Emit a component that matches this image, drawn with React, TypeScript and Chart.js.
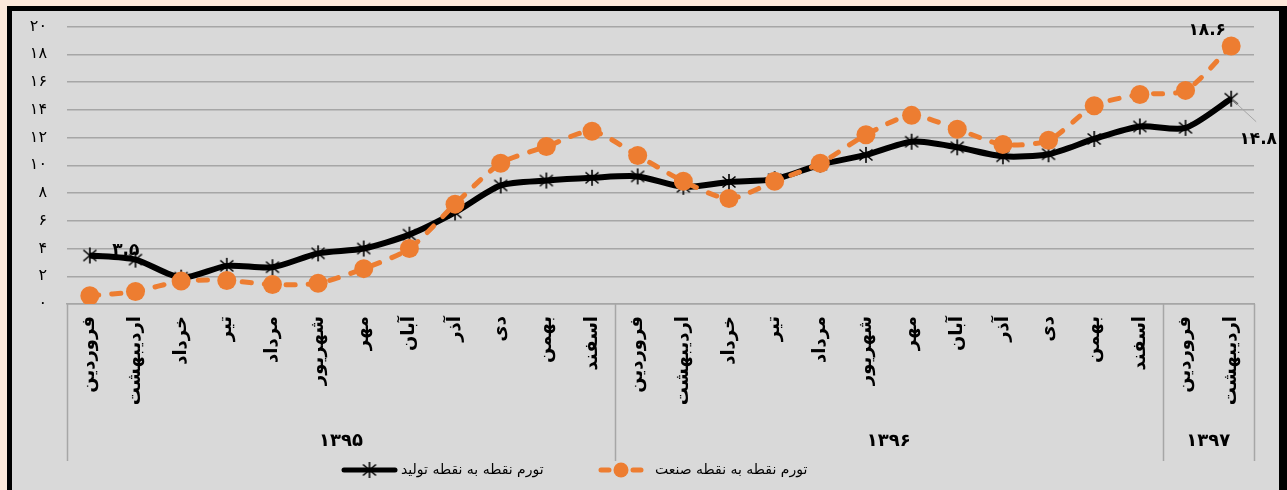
import React, { useEffect, useRef } from 'react';
import { Chart, registerables } from 'chart.js';

Chart.register(...registerables);

const months = ['فروردین', 'اردیبهشت', 'خرداد', 'تیر', 'مرداد', 'شهریور', 'مهر', 'آبان', 'آذر', 'دی', 'بهمن', 'اسفند'];
const categories = [...months, ...months, 'فروردین', 'اردیبهشت'];
const years = ['۱۳۹۵', '۱۳۹۶', '۱۳۹۷'];
const yearCounts = [12, 12, 2];

const productionInflation = [3.5, 3.2, 1.9, 2.75, 2.65, 3.65, 4.0, 5.0, 6.6, 8.55, 8.9, 9.1, 9.2, 8.45, 8.8, 9.0, 10.05, 10.75, 11.7, 11.3, 10.65, 10.8, 11.9, 12.8, 12.7, 14.8];
const industryInflation = [0.6, 0.9, 1.65, 1.7, 1.4, 1.5, 2.55, 4.0, 7.2, 10.15, 11.35, 12.45, 10.7, 8.85, 7.6, 8.85, 10.15, 12.2, 13.6, 12.6, 11.5, 11.8, 14.3, 15.1, 15.4, 18.6];
const seriesNames = ['تورم نقطه به نقطه تولید', 'تورم نقطه به نقطه صنعت'];

const yMin = 0;
const yMax = 20;
const yStep = 2;

// data labels: [dataset index, point index]
const labeledPoints: [number, number][] = [[0, 0], [1, 25], [0, 25]];

const FA_DIGITS = '۰۱۲۳۴۵۶۷۸۹';
const toFa = (v: number | string) => String(v).replace(/[0-9]/g, (d) => FA_DIGITS[Number(d)]);

const BLACK = '#000000';
const ORANGE = '#ed7d31';
const GRID = '#a6a6a6';
const FONT = '"DejaVu Sans", sans-serif';

function makeStar(): HTMLCanvasElement {
  const c = document.createElement('canvas');
  c.width = 18;
  c.height = 18;
  const g = c.getContext('2d')!;
  g.strokeStyle = '#000';
  g.lineWidth = 1.6;
  g.lineCap = 'butt';
  g.beginPath();
  g.moveTo(9, 1);
  g.lineTo(9, 17);
  g.moveTo(2.5, 3.5);
  g.lineTo(15.5, 14.5);
  g.moveTo(2.5, 14.5);
  g.lineTo(15.5, 3.5);
  g.stroke();
  return c;
}

export default function App() {
  const ref = useRef<HTMLCanvasElement | null>(null);

  useEffect(() => {
    document.body.style.margin = '0';
    document.body.style.background = '#fce8da';
    document.documentElement.style.overflow = 'hidden';
    const canvas = ref.current;
    if (!canvas) return;
    const star = makeStar();

    const overlay = {
      id: 'overlay',
      afterDraw(chart: any) {
        const ctx = chart.ctx as CanvasRenderingContext2D;
        const area = chart.chartArea;
        const total = categories.length;
        const w = (area.right - area.left) / total;
        const bottom = area.bottom;
        // group separators
        ctx.save();
        ctx.strokeStyle = GRID;
        ctx.lineWidth = 1.5;
        let k = 0;
        const bounds = [0];
        yearCounts.forEach((c) => { k += c; bounds.push(k); });
        bounds.forEach((b) => {
          const x = Math.round(area.left + b * w) + 0.5;
          ctx.beginPath();
          ctx.moveTo(x, bottom);
          ctx.lineTo(x, bottom + 157);
          ctx.stroke();
        });
        // year labels
        ctx.fillStyle = '#000';
        ctx.font = `bold 18px ${FONT}`;
        ctx.textAlign = 'center';
        ctx.textBaseline = 'middle';
        years.forEach((y, i) => {
          const cx = area.left + ((bounds[i] + bounds[i + 1]) / 2) * w;
          ctx.fillText(y, cx, bottom + 137);
        });
        // data labels
        ctx.font = `bold 17px ${FONT}`;
        labeledPoints.forEach(([ds, idx]) => {
          const pt = chart.getDatasetMeta(ds).data[idx];
          const val = chart.data.datasets[ds].data[idx] as number;
          const txt = toFa(val.toFixed(1));
          if (ds === 0 && idx === 0) {
            ctx.fillText(txt, pt.x + 36, pt.y - 5);
          } else if (ds === 1) {
            ctx.fillText(txt, pt.x - 24, pt.y - 15);
          } else {
            ctx.strokeStyle = GRID;
            ctx.lineWidth = 1;
            ctx.beginPath();
            ctx.moveTo(pt.x + 1, pt.y + 1);
            ctx.lineTo(pt.x + 25, pt.y + 23);
            ctx.stroke();
            ctx.fillText(txt, pt.x + 27, pt.y + 41);
          }
        });
        // legend
        const ly = bottom + 166;
        ctx.font = `14px ${FONT}`;
        ctx.textAlign = 'left';
        // item 1: black line + star
        ctx.strokeStyle = BLACK;
        ctx.lineWidth = 5;
        ctx.lineCap = 'round';
        ctx.beginPath();
        ctx.moveTo(332, ly);
        ctx.lineTo(383, ly);
        ctx.stroke();
        ctx.drawImage(star, 357.5 - 9, ly - 9);
        ctx.fillText(seriesNames[0], 389, ly);
        // item 2: orange dash + circle
        ctx.strokeStyle = ORANGE;
        ctx.fillStyle = ORANGE;
        ctx.lineWidth = 5;
        ctx.beginPath();
        ctx.moveTo(589, ly);
        ctx.lineTo(597, ly);
        ctx.moveTo(621, ly);
        ctx.lineTo(629, ly);
        ctx.stroke();
        ctx.beginPath();
        ctx.arc(609, ly, 7.5, 0, Math.PI * 2);
        ctx.fill();
        ctx.fillStyle = '#000';
        ctx.fillText(seriesNames[1], 643, ly);
        ctx.restore();
      },
    };

    const chart = new Chart(canvas, {
      type: 'line',
      data: {
        labels: categories,
        datasets: [
          {
            label: seriesNames[0],
            data: productionInflation,
            borderColor: BLACK,
            backgroundColor: BLACK,
            borderWidth: 6,
            tension: 0.25,
            pointStyle: star as any,
            pointRadius: 9,
            order: 1,
          },
          {
            label: seriesNames[1],
            data: industryInflation,
            borderColor: ORANGE,
            backgroundColor: ORANGE,
            borderWidth: 5,
            borderDash: [9, 13],
            borderCapStyle: 'round',
            tension: 0.25,
            pointStyle: 'circle',
            pointRadius: 9.5,
            pointBackgroundColor: ORANGE,
            pointBorderColor: ORANGE,
            pointBorderWidth: 0,
            order: 0,
          },
        ],
      },
      options: {
        animation: false,
        responsive: false,
        events: [],
        layout: { padding: { top: 0, right: 25, left: 0, bottom: 0 } },
        plugins: { legend: { display: false }, tooltip: { enabled: false } },
        scales: {
          x: {
            type: 'category',
            offset: true,
            grid: { display: false, drawTicks: false },
            border: { display: true, color: GRID, width: 1.5 },
            ticks: {
              autoSkip: false,
              minRotation: 90,
              maxRotation: 90,
              padding: 12,
              color: '#000',
              font: { family: FONT, size: 18, weight: 'bold' },
            },
            afterFit: (s: any) => { s.height = 186; },
          },
          y: {
            min: yMin,
            max: yMax,
            ticks: {
              stepSize: yStep,
              padding: 20,
              color: '#000',
              font: { family: FONT, size: 16 },
              callback: (v: any) => toFa(v),
            },
            grid: { color: GRID, lineWidth: 1.5, drawTicks: false, tickLength: 0 },
            border: { display: false },
            afterFit: (s: any) => { s.width = 55; },
          },
        },
      },
      plugins: [overlay],
    } as any);
    return () => chart.destroy();
  }, []);

  return (
    <div
      style={{
        position: 'absolute',
        left: 7,
        top: 6,
        width: 1267,
        height: 500,
        background: '#d9d9d9',
        borderLeft: '5px solid #000',
        borderTop: '5px solid #000',
        borderRight: '8px solid #000',
      }}
    >
      <canvas ref={ref} width={1267} height={493} style={{ display: 'block', marginTop: -14 }} />
    </div>
  );
}
